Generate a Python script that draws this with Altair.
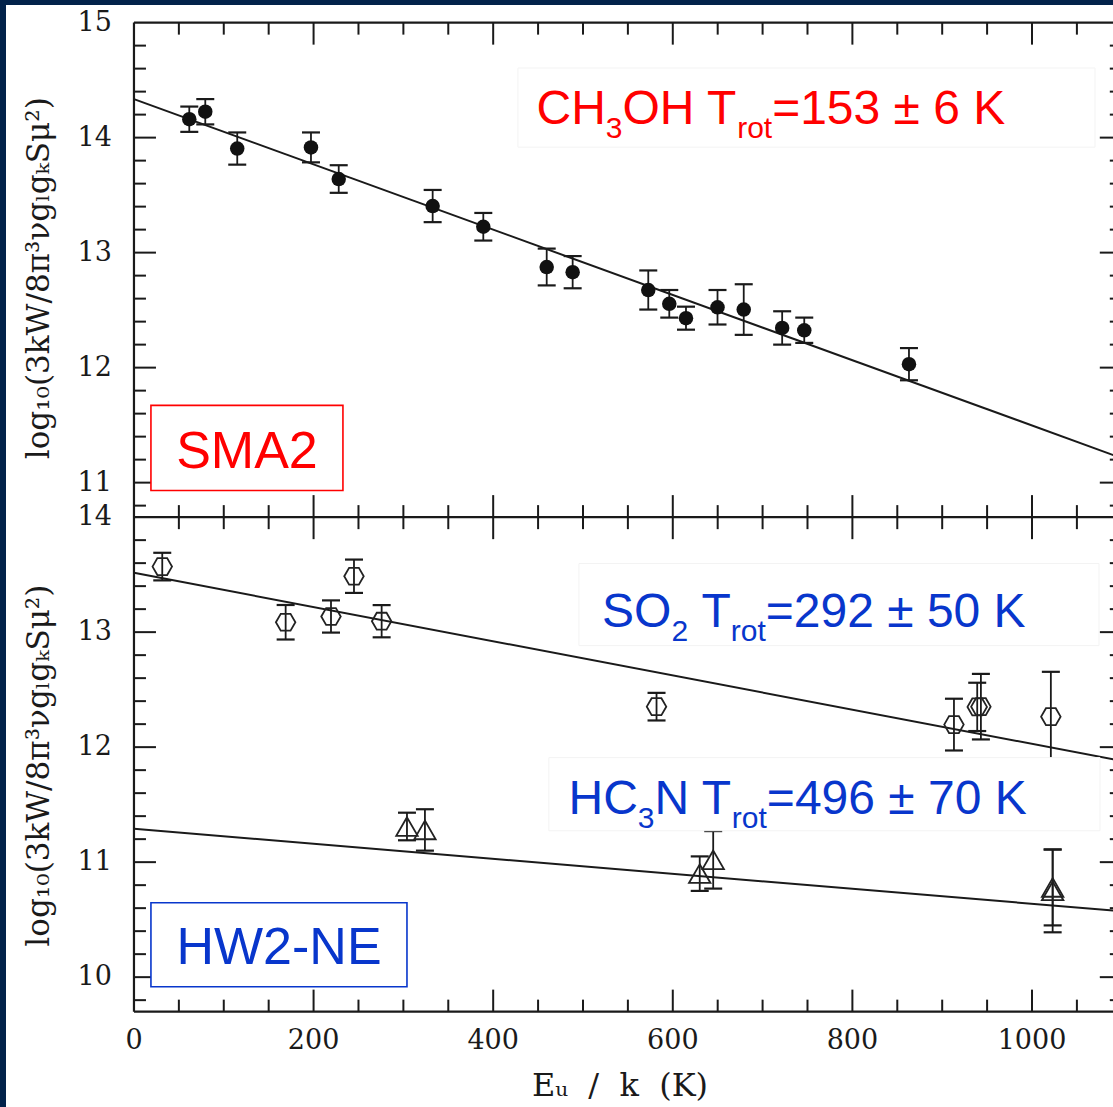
import altair as alt
import pandas as pd

# ---------------- data ----------------
# upper panel (SMA2): CH3OH rotation diagram
ch3oh_E = [61.6, 79.4, 115.0, 197.1, 228.0, 332.6, 389.0, 459.6, 488.5, 572.7,
           596.1, 614.7, 649.8, 679.0, 721.8, 746.4, 863.0]
ch3oh_v = [14.16, 14.225, 13.905, 13.915, 13.64, 13.405, 13.225, 12.875, 12.83, 12.675,
           12.555, 12.43, 12.525, 12.505, 12.345, 12.325, 12.03]
ch3oh_err = [0.11, 0.11, 0.14, 0.13, 0.12, 0.14, 0.12, 0.16, 0.14, 0.17,
             0.12, 0.10, 0.15, 0.22, 0.145, 0.11, 0.14]
ch3oh_fit_E = [0, 1100]
ch3oh_fit_v = [14.335, 11.213]

# lower panel (HW2-NE): SO2 and HC3N
so2_E = [31.5, 168.9, 219.4, 245.0, 275.8, 581.9, 913.1, 939.0, 943.1, 1021.0]
so2_v = [13.57, 13.086, 13.136, 13.486, 13.095, 12.352, 12.196, 12.35, 12.352, 12.265]
so2_err = [0.12, 0.15, 0.14, 0.145, 0.14, 0.12, 0.225, 0.21, 0.285, 0.39]
so2_fit_E = [0, 1100]
so2_fit_v = [13.516, 11.880]

hc3n_E = [304, 324, 630, 645, 1023, 1023]
hc3n_v = [11.31, 11.28, 10.90, 11.02, 10.75, 10.78]
hc3n_err = [0.12, 0.18, 0.15, 0.25, 0.36, 0.33]
hc3n_fit_E = [0, 1100]
hc3n_fit_v = [11.29, 10.573]

# axes
x_major = [0, 200, 400, 600, 800, 1000]
x_minor = [50, 100, 150, 250, 300, 350, 450, 500, 550, 650, 700, 750, 850, 900, 950, 1050]
top_labels = [11, 12, 13, 14, 15]
bot_labels = [10, 11, 12, 13, 14]
top_minor = [10.8, 11.2, 11.4, 11.6, 11.8, 12.2, 12.4, 12.6, 12.8, 13.2, 13.4, 13.6, 13.8,
             14.2, 14.4, 14.6, 14.8]
bot_minor = [9.8, 10.2, 10.4, 10.6, 10.8, 11.2, 11.4, 11.6, 11.8, 12.2, 12.4, 12.6, 12.8,
             13.2, 13.4, 13.6, 13.8]
top_range = [10.7, 15]
bot_range = [9.7, 14]
x_edge = [0, 1100]

y_title = "log₁₀(3kW/8π³νgₗgₖSμ²)"
x_title = "Eᵤ \u00a0/\u00a0 k \u00a0(K)"

# ---------------- layout / style ----------------
NAVY = "#02224a"
RED = "#ff0000"
BLUE = "#0836cc"
INK = "#1a1a1a"
PXX = 0.898     # px per E unit
PXY = 114.9     # px per log unit
OFF = top_range[0] - bot_range[1]  # lower panel shift (-3.3)
XMIN, XMAX = -142.5, 1090.2
YMIN, YMAX = 5.5709, 15.1532
MAJ, MIN = 22, 12

xs = alt.Scale(domain=[XMIN, XMAX], nice=False, zero=False)
ys = alt.Scale(domain=[YMIN, YMAX], nice=False, zero=False)


def X(f="x"):
    return alt.X(f"{f}:Q", scale=xs, axis=None)


def Y(f="y"):
    return alt.Y(f"{f}:Q", scale=ys, axis=None)


def lowY(v):
    return v + OFF


# frame lines
top_b, top_t = top_range
bot_b, bot_t = lowY(bot_range[0]), lowY(bot_range[1])
frame = pd.DataFrame([
    dict(x=x_edge[0], x2=x_edge[0], y=bot_b, y2=top_t),
    dict(x=x_edge[0], x2=x_edge[1], y=top_t, y2=top_t),
    dict(x=x_edge[0], x2=x_edge[1], y=top_b, y2=top_b),
    dict(x=x_edge[0], x2=x_edge[1], y=bot_b, y2=bot_b),
    dict(x=x_edge[1], x2=x_edge[1], y=bot_b, y2=top_t),
])

# ticks
rows = []
edges = [(top_t, -1), (top_b, 1), (bot_t, -1), (bot_b, 1)]
for vals, L in ((x_major[1:], MAJ), (x_minor, MIN)):
    for t in vals:
        for e, d in edges:
            rows.append(dict(x=t, x2=t, y=e, y2=e + d * L / PXY))
for vals, L, sh in ((top_labels[:-1], MAJ, 0), (top_minor, MIN, 0),
                    (bot_labels[:-1], MAJ, OFF), (bot_minor, MIN, OFF)):
    for v in vals:
        rows.append(dict(x=x_edge[0], x2=x_edge[0] + L / PXX, y=v + sh, y2=v + sh))
        rows.append(dict(x=x_edge[1], x2=x_edge[1] - L / PXX, y=v + sh, y2=v + sh))
ticks = pd.DataFrame(rows)

frame_l = alt.Chart(frame).mark_rule(color=INK, strokeWidth=2.2).encode(x=X(), x2="x2:Q", y=Y(), y2="y2:Q")
tick_l = alt.Chart(ticks).mark_rule(color=INK, strokeWidth=2).encode(x=X(), x2="x2:Q", y=Y(), y2="y2:Q")

# tick labels
ylab = pd.DataFrame([dict(x=0, y=v, t=str(v)) for v in top_labels] +
                    [dict(x=0, y=lowY(v), t=str(v)) for v in bot_labels])
ylab_l = alt.Chart(ylab).mark_text(align="right", baseline="middle", dx=-22, font="DejaVu Serif",
                                   fontSize=27, color=INK).encode(x=X(), y=Y(), text="t:N")
xlab = pd.DataFrame([dict(x=v, y=bot_b, t=str(v)) for v in x_major])
xlab_l = alt.Chart(xlab).mark_text(align="center", baseline="middle", dy=29, font="DejaVu Serif",
                                   fontSize=27, color=INK).encode(x=X(), y=Y(), text="t:N")

# axis titles
ytit = pd.DataFrame([dict(x=-104.7, y=12.777, t=y_title), dict(x=-104.7, y=lowY(11.839), t=y_title)])
ytit_l = alt.Chart(ytit).mark_text(angle=270, align="center", baseline="middle", font="DejaVu Serif",
                                   fontSize=31, color=INK).encode(x=X(), y=Y(), text="t:N")
xtit = pd.DataFrame([dict(x=541.2, y=bot_b - 74 / PXY, t=x_title)])
xtit_l = alt.Chart(xtit).mark_text(align="center", baseline="middle", font="DejaVu Serif",
                                   fontSize=32, color=INK).encode(x=X(), y=Y(), text="t:N")


# data frames
def pts(E, v, err, shift):
    return pd.DataFrame(dict(x=E, y=[a + shift for a in v],
                             lo=[a - e + shift for a, e in zip(v, err)],
                             hi=[a + e + shift for a, e in zip(v, err)]))


d_ch = pts(ch3oh_E, ch3oh_v, ch3oh_err, 0)
d_so = pts(so2_E, so2_v, so2_err, OFF)
d_hc = pts(hc3n_E, hc3n_v, hc3n_err, OFF)

CAP = 9 / PXX


def errbars(df):
    c = alt.Chart(df)
    stem = c.mark_rule(color=INK, strokeWidth=1.8).encode(x=X(), y=Y("lo"), y2="hi:Q")
    cdf = pd.concat([df.assign(cy=df["lo"]), df.assign(cy=df["hi"])])
    cdf = cdf.assign(cx1=cdf["x"] - CAP, cx2=cdf["x"] + CAP)
    caps = alt.Chart(cdf).mark_rule(color=INK, strokeWidth=2.2).encode(x=X("cx1"), x2="cx2:Q", y=Y("cy"))
    return stem + caps


fits = pd.DataFrame(dict(x=ch3oh_fit_E + so2_fit_E + hc3n_fit_E,
                         y=ch3oh_fit_v + [lowY(v) for v in so2_fit_v] + [lowY(v) for v in hc3n_fit_v],
                         s=["a", "a", "b", "b", "c", "c"]))
fit_l = alt.Chart(fits).mark_line(color=INK, strokeWidth=2, clip=False).encode(
    x=X(), y=Y(), detail="s:N")

HEX = "M-1,0L-0.5,-0.866L0.5,-0.866L1,0L0.5,0.866L-0.5,0.866Z"
ch_pts = alt.Chart(d_ch).mark_point(shape="circle", filled=True, size=210, color="#111", opacity=1).encode(x=X(), y=Y())
so_pts = alt.Chart(d_so).mark_point(shape=HEX, filled=False, size=380, color="#222", strokeWidth=1.8, opacity=1).encode(x=X(), y=Y())
hc_pts = alt.Chart(d_hc).mark_point(shape="triangle-up", filled=False, size=460, color="#222", strokeWidth=1.8, opacity=1).encode(x=X(), y=Y())

# annotation boxes
boxes = pd.DataFrame([
    dict(x=427.6, x2=1070.2, y=13.917, y2=14.605, c="#f3f3f3", w=1),
    dict(x=495.5, x2=1074.6, y=lowY(12.883), y2=lowY(13.597), c="#f3f3f3", w=1),
    dict(x=462.0, x2=1075.7, y=lowY(11.273), y2=lowY(11.909), c="#f3f3f3", w=1),
    dict(x=18.9, x2=232.7, y=10.932, y2=11.672, c=RED, w=1.6),
    dict(x=18.9, x2=304.0, y=lowY(9.916), y2=lowY(10.647), c=BLUE, w=1.6),
])
box_l = alt.Chart(boxes).mark_rect(fill="white").encode(
    x=X(), x2="x2:Q", y=Y(), y2="y2:Q",
    stroke=alt.Stroke("c:N", scale=None),
    strokeWidth=alt.StrokeWidth("w:Q", scale=None))

# rich-text annotations (subscripts) laid out with Arial metrics
ARIAL = {' ': 278, '=': 584, '±': 584, 'C': 722, 'H': 722, 'O': 778, 'T': 611, 'K': 667,
         'S': 667, 'N': 722, 'r': 333, 'o': 556, 't': 278}
for dgt in "0123456789":
    ARIAL[dgt] = 556
MAIN_FS, SUB_FS, DROP = 48, 30, 14


def rich(segs, E0, yb, color):
    main, sub = [], []
    px = 0.0
    for text, is_sub in segs:
        fs = SUB_FS if is_sub else MAIN_FS
        lead = len(text) - len(text.lstrip(" "))
        lw = ARIAL[' '] * lead * fs / 1000
        row = dict(x=E0 + (px + lw) / PXX, y=yb - (DROP / PXY if is_sub else 0), t=text.strip(" "), c=color)
        (sub if is_sub else main).append(row)
        px += sum(ARIAL[ch] for ch in text) * fs / 1000
    return main, sub


ann = [
    ([("CH", 0), ("3", 1), ("OH T", 0), ("rot", 1), ("=153 ± 6 K", 0)], 448.2, 14.1175, RED),
    ([("SO", 0), ("2", 1), (" T", 0), ("rot", 1), ("=292 ± 50 K", 0)], 521.2, lowY(13.0426), BLUE),
    ([("HC", 0), ("3", 1), ("N T", 0), ("rot", 1), ("=496 ± 70 K", 0)], 483.9, lowY(11.4187), BLUE),
]
mrows, srows = [], []
for segs, E0, yb, col in ann:
    m, s = rich(segs, E0, yb, col)
    mrows += m
    srows += s
main_l = alt.Chart(pd.DataFrame(mrows)).mark_text(align="left", baseline="alphabetic", font="Liberation Sans",
                                                  fontSize=MAIN_FS).encode(
    x=X(), y=Y(), text="t:N", color=alt.Color("c:N", scale=None))
sub_l = alt.Chart(pd.DataFrame(srows)).mark_text(align="left", baseline="alphabetic", font="Liberation Sans",
                                                 fontSize=SUB_FS).encode(
    x=X(), y=Y(), text="t:N", color=alt.Color("c:N", scale=None))

tags = pd.DataFrame([dict(x=125.8, y=11.1235, t="SMA2", c=RED),
                     dict(x=161.5, y=lowY(10.116), t="HW2-NE", c=BLUE)])
tag_l = alt.Chart(tags).mark_text(align="center", baseline="alphabetic", font="Liberation Sans",
                                  fontSize=52).encode(x=X(), y=Y(), text="t:N",
                                                      color=alt.Color("c:N", scale=None))

layers = [frame_l, tick_l, fit_l, errbars(d_ch), errbars(d_so), errbars(d_hc),
          ch_pts, so_pts, hc_pts, box_l, main_l, sub_l, tag_l,
          ylab_l, xlab_l, ytit_l, xtit_l]

chart = alt.layer(*layers).properties(
    width=1107, height=1102,
    autosize=alt.AutoSizeParams(type="none"),
    padding={"left": 6, "top": 5, "right": 0, "bottom": 0},
    background=NAVY,
).configure_view(fill="white", stroke=None)

chart.save("out.html", embed_options={"renderer": "svg", "actions": False})
